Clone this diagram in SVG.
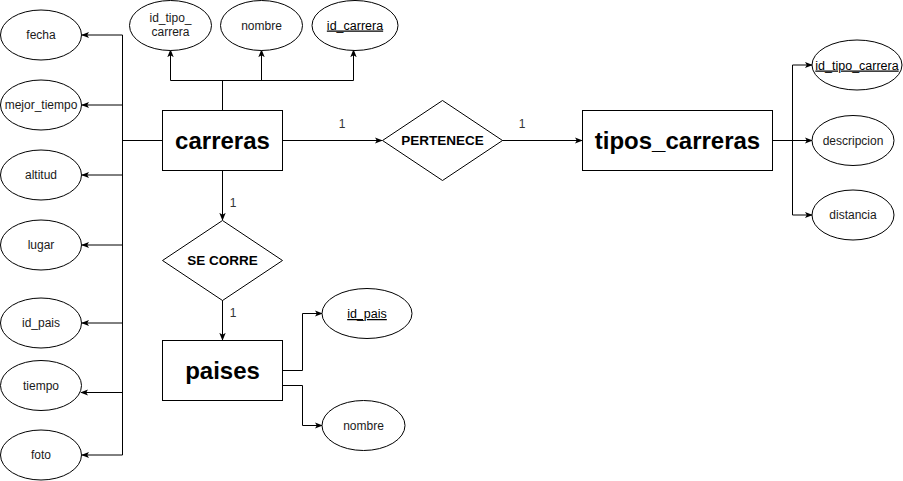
<svg xmlns="http://www.w3.org/2000/svg" width="903" height="481" viewBox="0 0 903 481">
<defs>
<marker id="arr" viewBox="0 0 10 10" refX="9" refY="5" markerWidth="8" markerHeight="8" markerUnits="userSpaceOnUse" orient="auto">
<path d="M0,1 L10,5 L0,9 L2.5,5 Z" fill="#000"/>
</marker>
<style>
.shape{fill:#fff;stroke:#000;stroke-width:1}
.edge{fill:none;stroke:#000;stroke-width:1}
.t{font-family:"Liberation Sans",Arial,sans-serif;font-size:12px;fill:#1a1a1a;text-anchor:middle}
.k{font-family:"Liberation Sans",Arial,sans-serif;font-size:12.5px;fill:#000;text-anchor:middle;text-decoration:underline}
.e{font-family:"Liberation Sans",Arial,sans-serif;font-size:24px;font-weight:bold;fill:#000;text-anchor:middle}
.r{font-family:"Liberation Sans",Arial,sans-serif;font-size:13.5px;font-weight:bold;fill:#000;text-anchor:middle}
.n{font-family:"Liberation Sans",Arial,sans-serif;font-size:12px;fill:#333;text-anchor:middle}
</style>
</defs>
<rect width="903" height="481" fill="#fff"/>
<g id="connectors">
<path class="edge" d="M162,140.5 H122.5"/>
<path class="edge" d="M122.5,35 V455"/>
<path class="edge" marker-end="url(#arr)" d="M122.5,35 H82"/>
<path class="edge" marker-end="url(#arr)" d="M122.5,105 H82"/>
<path class="edge" marker-end="url(#arr)" d="M122.5,175 H82"/>
<path class="edge" marker-end="url(#arr)" d="M122.5,245 H82"/>
<path class="edge" marker-end="url(#arr)" d="M122.5,323 H82"/>
<path class="edge" marker-end="url(#arr)" d="M122.5,392.5 H81"/>
<path class="edge" marker-end="url(#arr)" d="M122.5,455 H82"/>
<path class="edge" d="M222.5,110 V80.5 M170.5,80.5 H353.5"/>
<path class="edge" marker-end="url(#arr)" d="M170.5,80.5 V50"/>
<path class="edge" marker-end="url(#arr)" d="M261.5,80.5 V50"/>
<path class="edge" marker-end="url(#arr)" d="M353.5,80.5 V50"/>
<path class="edge" marker-end="url(#arr)" d="M282,140.5 H382"/>
<path class="edge" marker-end="url(#arr)" d="M502,140.5 H582"/>
<path class="edge" marker-end="url(#arr)" d="M222.5,170 V220"/>
<path class="edge" marker-end="url(#arr)" d="M222.5,300 V340"/>
<path class="edge" d="M772,140.5 H792.5 M792.5,65 V215"/>
<path class="edge" marker-end="url(#arr)" d="M792.5,65 H812"/>
<path class="edge" marker-end="url(#arr)" d="M792.5,140.5 H812"/>
<path class="edge" marker-end="url(#arr)" d="M792.5,215 H812"/>
<path class="edge" marker-end="url(#arr)" d="M282,370.5 H302.5 V313.5 H322"/>
<path class="edge" marker-end="url(#arr)" d="M282,385.5 H302.5 V425.5 H322"/>
<text class="n" x="342" y="128">1</text>
<text class="n" x="522" y="128">1</text>
<text class="n" x="233" y="207">1</text>
<text class="n" x="233" y="317">1</text>
</g>
<g id="carreras">
<rect class="shape" x="162.5" y="110.5" width="120" height="60"/>
<text class="e" x="222.5" y="141" dy="8">carreras</text>
</g>
<g id="tipos_carreras">
<rect class="shape" x="582.5" y="110.5" width="190" height="60"/>
<text class="e" x="677.5" y="141" dy="8">tipos_carreras</text>
</g>
<g id="paises">
<rect class="shape" x="162.5" y="340.5" width="120" height="60"/>
<text class="e" x="222.5" y="371" dy="8">paises</text>
</g>
<g id="pertenece">
<path class="shape" d="M442.5,100.5 L502.5,140.5 L442.5,180.5 L382.5,140.5 Z"/>
<text class="r" x="442.5" y="145">PERTENECE</text>
</g>
<g id="se_corre">
<path class="shape" d="M222.5,220.5 L282.5,260.5 L222.5,300.5 L162.5,260.5 Z"/>
<text class="r" x="222.5" y="265">SE CORRE</text>
</g>
<g id="attr_fecha"><ellipse class="shape" cx="41" cy="35" rx="40.5" ry="25"/><text class="t" x="41" y="39">fecha</text></g>
<g id="attr_mejor_tiempo"><ellipse class="shape" cx="41" cy="105" rx="40.5" ry="25"/><text class="t" x="41" y="109">mejor_tiempo</text></g>
<g id="attr_altitud"><ellipse class="shape" cx="41" cy="175" rx="40.5" ry="25"/><text class="t" x="41" y="179">altitud</text></g>
<g id="attr_lugar"><ellipse class="shape" cx="41" cy="245" rx="40.5" ry="25"/><text class="t" x="41" y="249">lugar</text></g>
<g id="attr_id_pais_c"><ellipse class="shape" cx="41" cy="323" rx="40.5" ry="25"/><text class="t" x="41" y="327">id_pais</text></g>
<g id="attr_tiempo"><ellipse class="shape" cx="41" cy="385.5" rx="40.5" ry="25"/><text class="t" x="41" y="389.5">tiempo</text></g>
<g id="attr_foto"><ellipse class="shape" cx="41" cy="455" rx="40.5" ry="25"/><text class="t" x="41" y="459">foto</text></g>
<g id="attr_id_tipo_carrera_c"><ellipse class="shape" cx="170.5" cy="25.5" rx="41" ry="25"/><text class="t" x="170.5" y="22">id_tipo_</text><text class="t" x="170.5" y="36">carrera</text></g>
<g id="attr_nombre_c"><ellipse class="shape" cx="261.5" cy="25.5" rx="41" ry="25"/><text class="t" x="261.5" y="29.5">nombre</text></g>
<g id="attr_id_carrera"><ellipse class="shape" cx="355" cy="25.5" rx="43" ry="25"/><text class="k" x="355" y="29.5">id_carrera</text></g>
<g id="attr_id_tipo_carrera_t"><ellipse class="shape" cx="857" cy="65" rx="45" ry="25"/><text class="k" x="857" y="69.5">id_tipo_carrera</text></g>
<g id="attr_descripcion"><ellipse class="shape" cx="853" cy="140.5" rx="41" ry="25"/><text class="t" x="853" y="144.5">descripcion</text></g>
<g id="attr_distancia"><ellipse class="shape" cx="853" cy="215" rx="41" ry="25"/><text class="t" x="853" y="219">distancia</text></g>
<g id="attr_id_pais_p"><ellipse class="shape" cx="367" cy="313.5" rx="45" ry="25"/><text class="k" x="367" y="318">id_pais</text></g>
<g id="attr_nombre_p"><ellipse class="shape" cx="363.5" cy="425.5" rx="41.5" ry="25"/><text class="t" x="363.5" y="429.5">nombre</text></g>
</svg>
